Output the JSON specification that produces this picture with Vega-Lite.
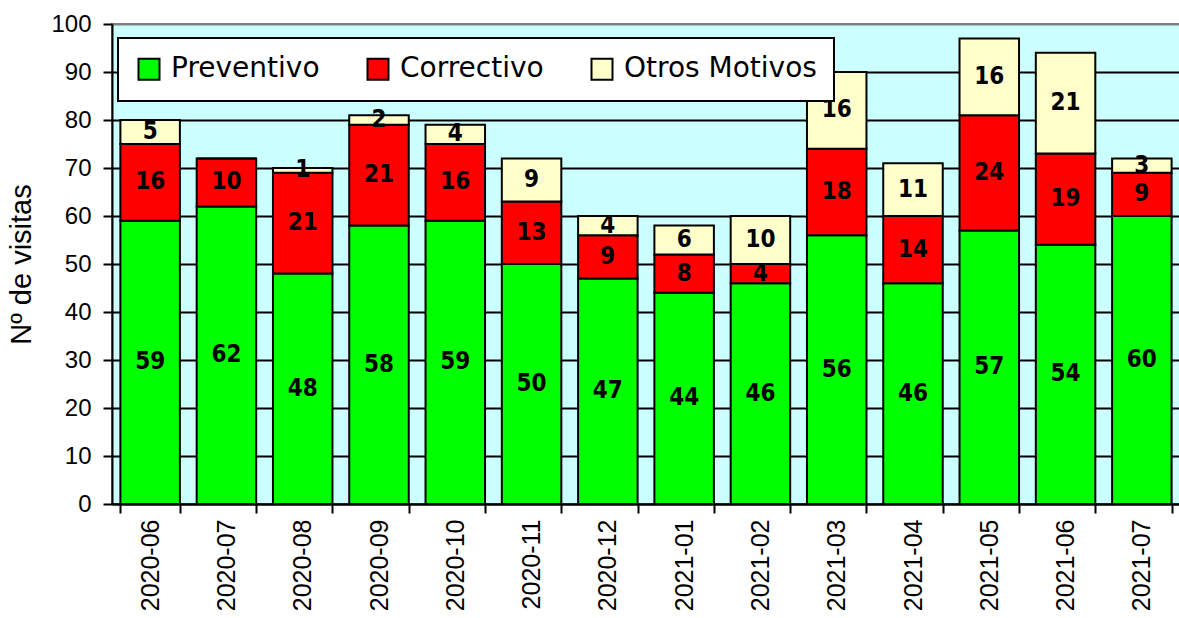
{
  "$schema": "https://vega.github.io/schema/vega-lite/v6.json",
  "width": 1068,
  "height": 480,
  "autosize": {"type": "none"},
  "padding": {"left": 112, "top": 24, "right": 0, "bottom": 114},
  "background": "white",
  "config": {
    "view": {"fill": "#CCFFFF", "stroke": "#808080", "strokeWidth": 2},
    "axis": {"labelColor": "black", "titleColor": "black", "domainColor": "black", "tickColor": "black", "domainWidth": 2, "tickWidth": 2}
  },
  "data": {
    "values": [
      {"mes": "2020-06", "tipo": "Preventivo", "valor": 59},
      {"mes": "2020-06", "tipo": "Correctivo", "valor": 16},
      {"mes": "2020-06", "tipo": "Otros Motivos", "valor": 5},
      {"mes": "2020-07", "tipo": "Preventivo", "valor": 62},
      {"mes": "2020-07", "tipo": "Correctivo", "valor": 10},
      {"mes": "2020-07", "tipo": "Otros Motivos", "valor": 0},
      {"mes": "2020-08", "tipo": "Preventivo", "valor": 48},
      {"mes": "2020-08", "tipo": "Correctivo", "valor": 21},
      {"mes": "2020-08", "tipo": "Otros Motivos", "valor": 1},
      {"mes": "2020-09", "tipo": "Preventivo", "valor": 58},
      {"mes": "2020-09", "tipo": "Correctivo", "valor": 21},
      {"mes": "2020-09", "tipo": "Otros Motivos", "valor": 2},
      {"mes": "2020-10", "tipo": "Preventivo", "valor": 59},
      {"mes": "2020-10", "tipo": "Correctivo", "valor": 16},
      {"mes": "2020-10", "tipo": "Otros Motivos", "valor": 4},
      {"mes": "2020-11", "tipo": "Preventivo", "valor": 50},
      {"mes": "2020-11", "tipo": "Correctivo", "valor": 13},
      {"mes": "2020-11", "tipo": "Otros Motivos", "valor": 9},
      {"mes": "2020-12", "tipo": "Preventivo", "valor": 47},
      {"mes": "2020-12", "tipo": "Correctivo", "valor": 9},
      {"mes": "2020-12", "tipo": "Otros Motivos", "valor": 4},
      {"mes": "2021-01", "tipo": "Preventivo", "valor": 44},
      {"mes": "2021-01", "tipo": "Correctivo", "valor": 8},
      {"mes": "2021-01", "tipo": "Otros Motivos", "valor": 6},
      {"mes": "2021-02", "tipo": "Preventivo", "valor": 46},
      {"mes": "2021-02", "tipo": "Correctivo", "valor": 4},
      {"mes": "2021-02", "tipo": "Otros Motivos", "valor": 10},
      {"mes": "2021-03", "tipo": "Preventivo", "valor": 56},
      {"mes": "2021-03", "tipo": "Correctivo", "valor": 18},
      {"mes": "2021-03", "tipo": "Otros Motivos", "valor": 16},
      {"mes": "2021-04", "tipo": "Preventivo", "valor": 46},
      {"mes": "2021-04", "tipo": "Correctivo", "valor": 14},
      {"mes": "2021-04", "tipo": "Otros Motivos", "valor": 11},
      {"mes": "2021-05", "tipo": "Preventivo", "valor": 57},
      {"mes": "2021-05", "tipo": "Correctivo", "valor": 24},
      {"mes": "2021-05", "tipo": "Otros Motivos", "valor": 16},
      {"mes": "2021-06", "tipo": "Preventivo", "valor": 54},
      {"mes": "2021-06", "tipo": "Correctivo", "valor": 19},
      {"mes": "2021-06", "tipo": "Otros Motivos", "valor": 21},
      {"mes": "2021-07", "tipo": "Preventivo", "valor": 60},
      {"mes": "2021-07", "tipo": "Correctivo", "valor": 9},
      {"mes": "2021-07", "tipo": "Otros Motivos", "valor": 3}
    ]
  },
  "transform": [
    {"calculate": "indexof(['Preventivo','Correctivo','Otros Motivos'], datum.tipo)", "as": "ord"},
    {"stack": "valor", "groupby": ["mes"], "sort": [{"field": "ord", "order": "ascending"}], "as": ["y0", "y1"]},
    {"calculate": "(datum.y0 + datum.y1) / 2", "as": "mid"}
  ],
  "encoding": {
    "x": {
      "field": "mes", "type": "ordinal", "sort": null,
      "scale": {"paddingInner": 0.22, "paddingOuter": 0.11},
      "axis": {
        "title": null, "labelAngle": 270, "labelAlign": "right", "labelBaseline": "middle",
        "labelFont": "Liberation Sans", "labelFontSize": 25, "labelPadding": 6,
        "tickSize": 9, "tickBand": "extent", "grid": false
      }
    }
  },
  "layer": [
    {
      "mark": {"type": "bar", "stroke": "black", "strokeWidth": 2},
      "encoding": {
        "y": {
          "field": "y1", "type": "quantitative",
          "scale": {"domain": [0, 100], "nice": false},
          "axis": {
            "title": "Nº de visitas", "titleFont": "Liberation Sans", "titleFontSize": 29, "titleFontWeight": "normal", "titlePadding": 14,
            "values": [0, 10, 20, 30, 40, 50, 60, 70, 80, 90, 100],
            "labelFont": "Liberation Sans", "labelFontSize": 24, "labelPadding": 12,
            "tickSize": 9,
            "grid": true, "gridWidth": 2,
            "gridColor": {"condition": {"test": "datum.value === 100", "value": "#808080"}, "value": "black"}
          }
        },
        "y2": {"field": "y0"},
        "color": {
          "field": "tipo", "type": "nominal",
          "scale": {"domain": ["Preventivo", "Correctivo", "Otros Motivos"], "range": ["#00FF00", "#FF0000", "#FFFFCC"]},
          "legend": {
            "title": null, "orient": "none", "direction": "horizontal",
            "legendX": 6, "legendY": 14,
            "fillColor": "white", "strokeColor": "black", "padding": 17,
            "symbolType": "square", "symbolSize": 441, "symbolStrokeColor": "black", "symbolStrokeWidth": 2, "symbolOpacity": 1,
            "labelFont": "DejaVu Sans", "labelFontSize": 28, "labelColor": "black", "labelOffset": 8, "labelLimit": 400,
            "columnPadding": 43,
            "encode": {"legend": {"update": {"strokeWidth": {"value": 2}}}}
          }
        }
      }
    },
    {
      "transform": [{"filter": "datum.valor > 0"}],
      "mark": {"type": "text", "font": "DejaVu Sans Condensed", "fontWeight": "bold", "fontSize": 24, "color": "black", "baseline": "middle", "align": "center"},
      "encoding": {
        "y": {"field": "mid", "type": "quantitative"},
        "text": {"field": "valor", "type": "quantitative"}
      }
    }
  ]
}
